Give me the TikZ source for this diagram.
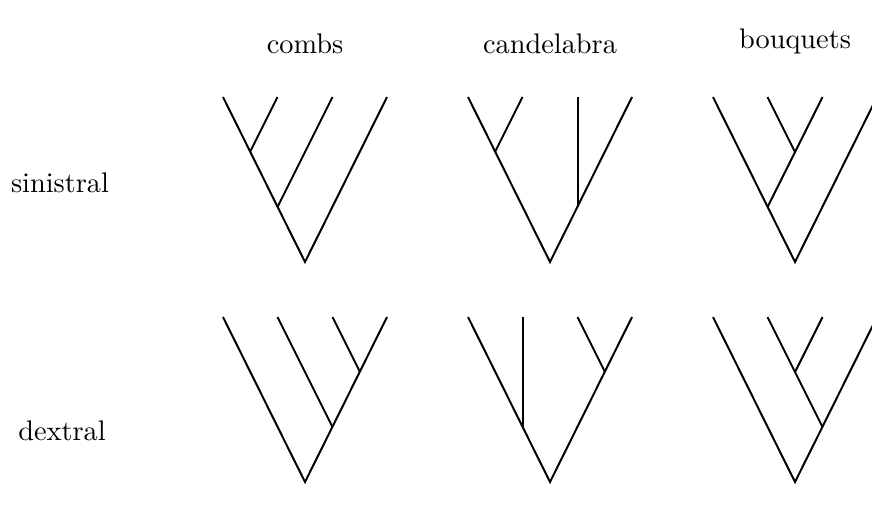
\documentclass[tikz,border=0pt]{standalone}
\usepackage{amsmath, amssymb}
\usepackage{tikz}
\usetikzlibrary{calc, positioning}

\tikzset{branch/.style={line width=0.7pt, line cap=butt, line join=miter}}

\begin{document}
\begin{tikzpicture}[x=0.353pt, y=-0.353pt]
    \useasboundingbox (0,0) rectangle (872,512);

    % Tiêu đề cột và hàng
    \node (combs) at (305,44) {combs};
    \node (cand) at (550,44) {candelabra};
    \node (bouq) at (795,41) {bouquets};
    \node (sin) at (60,183) {sinistral};
    \node (dex) at (62,431) {dextral};

    % Hai hàng cây: sinistral (s = 1) và dextral (s = -1, đối xứng)
    \foreach \s/\yr/\row in {1/262/s, -1/482/d} {
        % combs
        \begin{scope}[shift={(305,\yr)}, xscale=\s]
            \coordinate (comb-\row-r) at (0,0);
            \coordinate (comb-\row-a) at (-55,-110);
            \coordinate (comb-\row-b) at (-27.5,-55);
            \coordinate (comb-\row-1) at (-82,-165);
            \coordinate (comb-\row-2) at (-27.5,-165);
            \coordinate (comb-\row-3) at (27.5,-165);
            \coordinate (comb-\row-4) at (82,-165);
            \draw[branch] (comb-\row-1) -- (comb-\row-r) -- (comb-\row-4);
            \draw[branch] (comb-\row-2) -- (comb-\row-a);
            \draw[branch] (comb-\row-3) -- (comb-\row-b);
        \end{scope}
        % candelabra
        \begin{scope}[shift={(550,\yr)}, xscale=\s]
            \coordinate (cand-\row-r) at (0,0);
            \coordinate (cand-\row-a) at (-55,-110);
            \coordinate (cand-\row-b) at (27.5,-55);
            \coordinate (cand-\row-1) at (-82,-165);
            \coordinate (cand-\row-2) at (-27.5,-165);
            \coordinate (cand-\row-3) at (27.5,-165);
            \coordinate (cand-\row-4) at (82,-165);
            \draw[branch] (cand-\row-1) -- (cand-\row-r) -- (cand-\row-4);
            \draw[branch] (cand-\row-2) -- (cand-\row-a);
            \draw[branch] (cand-\row-3) -- (cand-\row-b);
        \end{scope}
        % bouquets
        \begin{scope}[shift={(795,\yr)}, xscale=\s]
            \coordinate (bouq-\row-r) at (0,0);
            \coordinate (bouq-\row-a) at (0,-110);
            \coordinate (bouq-\row-b) at (-27.5,-55);
            \coordinate (bouq-\row-1) at (-82,-165);
            \coordinate (bouq-\row-2) at (-27.5,-165);
            \coordinate (bouq-\row-3) at (27.5,-165);
            \coordinate (bouq-\row-4) at (82,-165);
            \draw[branch] (bouq-\row-1) -- (bouq-\row-r) -- (bouq-\row-4);
            \draw[branch] (bouq-\row-2) -- (bouq-\row-a);
            \draw[branch] (bouq-\row-3) -- (bouq-\row-a) -- (bouq-\row-b);
        \end{scope}
    }
\end{tikzpicture}
\end{document}
